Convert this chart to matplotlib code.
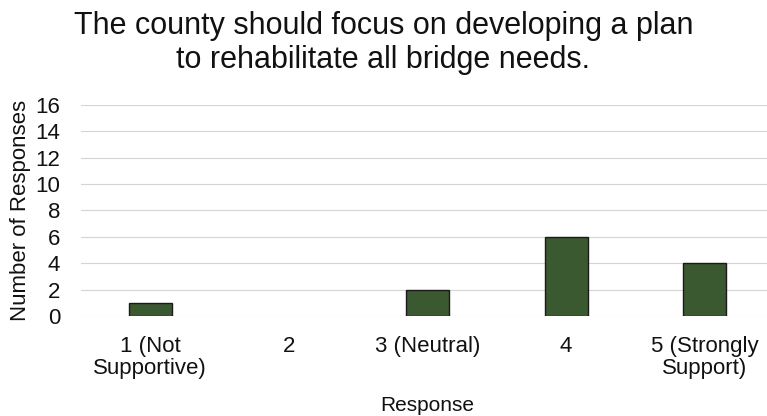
import matplotlib.pyplot as plt

# Datos de la encuesta
categories = ["1 (Not\nSupportive)", "2", "3 (Neutral)", "4", "5 (Strongly\nSupport)"]
responses = [1, 0, 2, 6, 4]
y_ticks = [0, 2, 4, 6, 8, 10, 12, 14, 16]

plt.rcParams['font.family'] = ['Liberation Sans', 'DejaVu Sans']

fig = plt.figure(figsize=(7.67, 4.16), dpi=100)
ax = fig.add_axes([0.1056, 0.240, 0.9035, 0.508])

x = range(len(categories))
# sin borde para barras con valor cero
widths = [1.0 if v > 0 else 0 for v in responses]
ax.bar(x, responses, width=0.31, color="#3b5931", edgecolor="#1a1a1a", linewidth=widths, zorder=3)

ax.set_xlim(-0.5, len(categories) - 0.5)
ax.set_ylim(0, 16)
ax.set_yticks(y_ticks)
ax.set_xticks(list(x))
ax.set_xticklabels(categories, fontsize=16, color="#111111", linespacing=1.1)
ax.tick_params(axis='y', labelsize=16, colors="#111111", length=0, pad=15)
ax.tick_params(axis='x', length=0, pad=14)
ax.grid(axis='y', color="#d4d4d4", linewidth=0.8, zorder=0)

for s in ax.spines.values():
    s.set_visible(False)

ax.set_ylabel("Number of Responses", fontsize=16, color="#111111", labelpad=3)
ax.set_xlabel("Response", fontsize=15, color="#111111", labelpad=12)

fig.text(0.5, 0.897, "The county should focus on developing a plan\nto rehabilitate all bridge needs.",
         ha='center', va='center', fontsize=22, color="#111111", linespacing=1.2)

fig.savefig("out.png", dpi=100, facecolor="white")
